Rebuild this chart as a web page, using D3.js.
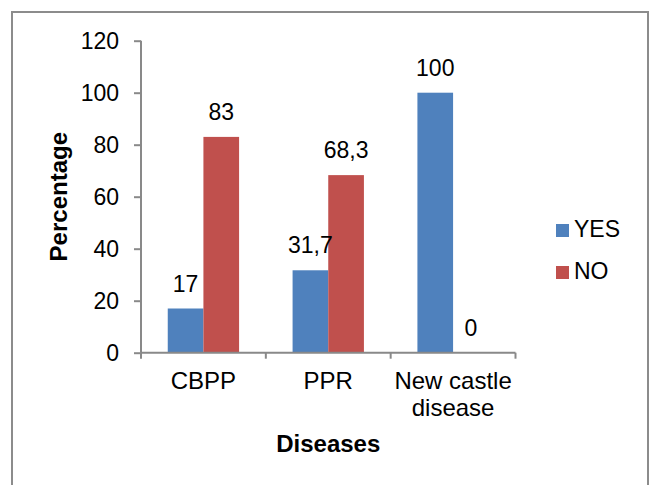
<!DOCTYPE html>
<html>
<head>
<meta charset="utf-8">
<script src="https://cdn.jsdelivr.net/npm/d3@7"></script>
<style>
  body { margin: 0; background: #fff; }
  text { font-family: "Liberation Sans", Arial, sans-serif; fill: #000; }
</style>
</head>
<body>
<script>
var categories = ["CBPP", "PPR", "New castle disease"];
var catLines = [["CBPP"], ["PPR"], ["New castle", "disease"]];
var seriesNames = ["YES", "NO"];
var yesValues = [17, 31.7, 100];
var noValues = [83, 68.3, 0];
var valueLabels = [["17", "31,7", "100"], ["83", "68,3", "0"]];
var yTicks = [0, 20, 40, 60, 80, 100, 120];
var colors = ["#4f81bd", "#c0504d"];

var width = 651, height = 485;
var svg = d3.select("body").append("svg")
    .attr("width", width)
    .attr("height", height);

// outer frame
svg.append("rect")
    .attr("x", 12).attr("y", 12)
    .attr("width", 636).attr("height", 490)
    .attr("fill", "none")
    .attr("stroke", "#8c8c8c")
    .attr("stroke-width", 2);

var plotLeft = 141, plotRight = 515.5, plotTop = 40.7, plotBottom = 352.7;

var x0 = d3.scaleBand().domain(categories).range([plotLeft, plotRight]).padding(0);
var x1 = d3.scaleBand().domain(seriesNames).range([0, x0.bandwidth()]).paddingInner(0).paddingOuter(0.75);
var y = d3.scaleLinear().domain([0, 120]).range([plotBottom, plotTop]);

var data = categories.map(function(c, i) {
    return { cat: c, values: [yesValues[i], noValues[i]] };
});

// bars
var groups = svg.selectAll("g.cat")
    .data(data)
    .enter().append("g")
    .attr("class", "cat")
    .attr("transform", function(d) { return "translate(" + x0(d.cat) + ",0)"; });

groups.selectAll("rect")
    .data(function(d) { return d.values.map(function(v, j) { return { s: seriesNames[j], v: v, j: j }; }); })
    .enter().append("rect")
    .attr("x", function(d) { return x1(d.s); })
    .attr("y", function(d) { return y(d.v); })
    .attr("width", x1.bandwidth())
    .attr("height", function(d) { return plotBottom - y(d.v); })
    .attr("fill", function(d) { return colors[d.j]; });

// value labels
groups.selectAll("text.val")
    .data(function(d, i) { return d.values.map(function(v, j) { return { s: seriesNames[j], v: v, lab: valueLabels[j][i] }; }); })
    .enter().append("text")
    .attr("class", "val")
    .attr("x", function(d) { return x1(d.s) + x1.bandwidth() / 2; })
    .attr("y", function(d) { return y(d.v) - 17; })
    .attr("text-anchor", "middle")
    .attr("font-size", "23px")
    .text(function(d) { return d.lab; });

// y axis
var yAxis = svg.append("g")
    .attr("transform", "translate(" + plotLeft + ",0)")
    .call(d3.axisLeft(y).tickValues(yTicks).tickSize(7).tickPadding(15));
yAxis.selectAll("line, path").attr("stroke", "#898989").attr("stroke-width", 2);
yAxis.select(".domain").attr("d", "M0," + plotTop + "V" + plotBottom);
yAxis.selectAll("text")
    .attr("font-size", "23px")
    .attr("font-family", "Liberation Sans, Arial, sans-serif")
    .attr("fill", "#000");

// x axis
var xAxis = svg.append("g")
    .attr("transform", "translate(0," + plotBottom + ")")
    .call(d3.axisBottom(x0).tickSize(0).tickFormat(""));
xAxis.select(".domain").attr("stroke", "#898989").attr("stroke-width", 2)
    .attr("d", "M" + plotLeft + ",0H" + plotRight);
xAxis.selectAll(".tick").remove();
xAxis.selectAll("line.sep")
    .data(categories.concat(["end"]))
    .enter().append("line")
    .attr("class", "sep")
    .attr("x1", function(d, i) { return i < categories.length ? x0(d) : plotRight; })
    .attr("x2", function(d, i) { return i < categories.length ? x0(d) : plotRight; })
    .attr("y1", 0).attr("y2", 6)
    .attr("stroke", "#898989").attr("stroke-width", 2);

// category labels
svg.selectAll("text.cat")
    .data(categories)
    .enter().append("text")
    .attr("class", "cat")
    .attr("text-anchor", "middle")
    .attr("font-size", "24px")
    .attr("transform", function(d) { return "translate(" + (x0(d) + x0.bandwidth() / 2) + ",389)"; })
    .each(function(d, i) {
        var t = d3.select(this);
        catLines[i].forEach(function(line, k) {
            t.append("tspan").attr("x", 0).attr("y", k * 27).text(line);
        });
    });

// axis titles
svg.append("text")
    .attr("x", (plotLeft + plotRight) / 2)
    .attr("y", 452)
    .attr("text-anchor", "middle")
    .attr("font-size", "24px")
    .attr("font-weight", "bold")
    .text("Diseases");

svg.append("text")
    .attr("transform", "translate(66.5," + ((plotTop + plotBottom) / 2) + ")rotate(-90)")
    .attr("text-anchor", "middle")
    .attr("font-size", "24px")
    .attr("font-weight", "bold")
    .text("Percentage");

// legend
var legend = svg.selectAll("g.legend")
    .data(seriesNames)
    .enter().append("g")
    .attr("class", "legend")
    .attr("transform", function(d, i) { return "translate(556," + (224 + i * 42) + ")"; });
legend.append("rect")
    .attr("width", 13).attr("height", 13)
    .attr("fill", function(d, i) { return colors[i]; });
legend.append("text")
    .attr("x", 18).attr("y", 12.5)
    .attr("font-size", "23px")
    .text(function(d) { return d; });
</script>
</body>
</html>
